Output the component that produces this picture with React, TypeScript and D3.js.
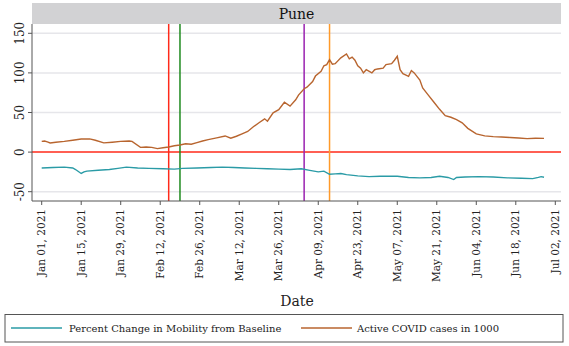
import React from "react";
import * as d3 from "d3";

const casesDays = [0,1,2,3,5,8,11,14,17,19,22,25,28,31,32,35,37,39,41,43,45,47,49,51,53,55,57,59,62,65,67,69,71,73,75,77,79,80,82,84,86,88,90,91,93,94,96,97,99,100,101,102,103,104,106,108,109,110,111,112,113,114,115,117,118,119,121,122,124,125,126,127,128,130,131,132,134,135,137,139,141,143,145,147,149,151,154,157,160,163,166,169,172,175,178];
const casesValues = [13.6,14,13,11.6,12.5,13.5,15,16.5,16.7,15,11.6,12.5,13.5,14,13.5,6,6.5,6,4.4,5.5,6.5,8,9,10.5,10,12,14,15.8,18,20.4,17.5,20,23,26,32,37,42,39,49.5,53.6,63,58,66,72,80,82,89,96,102,109,110.5,116.8,111,111.7,119,124,117.7,120,116,109,106,100,104,100,104,105,106,110.5,111.7,116,121,104,99,95.7,103,100,91,81,72,63,54,46,44,41,37,30,23,20.5,19.5,19,18.5,17.8,17,17.5,17.3];

const mobilityDays = [0,4,8,11,12,14,15,16,20,24,27,30,34,38,43,47,50,55,60,64,68,72,76,80,84,88,92,95,98,100,102,104,106,108,112,116,120,126,130,134,138,141,144,146,147,150,155,160,165,170,174,176,177,178];
const mobilityValues = [-20,-19.5,-19,-20,-22,-27,-25,-24,-23,-22,-20.5,-19,-20,-20.5,-21,-21.5,-20.5,-20,-19.5,-19,-19.5,-20,-20.5,-21,-21.5,-22,-21,-23,-25,-24,-28,-27.5,-27,-28.5,-30,-31,-30.5,-30.5,-32,-32.5,-32,-30.5,-32,-34.7,-32,-31.5,-31,-31.5,-32.5,-33,-33.5,-32,-31,-31.8];

const xTickLabels = ["Jan 01, 2021","Jan 15, 2021","Jan 29, 2021","Feb 12, 2021","Feb 26, 2021","Mar 12, 2021","Mar 26, 2021","Apr 09, 2021","Apr 23, 2021","May 07, 2021","May 21, 2021","Jun 04, 2021","Jun 18, 2021","Jul 02, 2021"];
const yTicks = [-50, 0, 50, 100, 150];
const eventDates = ["2021-02-15", "2021-02-19", "2021-04-04", "2021-04-13"];
const eventColors = ["#ff2a1a", "#1f8a1f", "#9a22b0", "#ff9a2a"];

const start = new Date(2021, 0, 1);
const dayToDate = (d: number) => new Date(2021, 0, 1 + d);
const parse = d3.timeParse("%Y-%m-%d");
const fmt = d3.timeFormat("%b %d, %Y");

export default function App() {
  const W = 569, H = 346;
  const left = 32, right = 561, top = 24, bottom = 201;
  const x = d3.scaleTime().domain([start, new Date(2021, 6, 2)]).range([41.7, 555.3]);
  const y = d3.scaleLinear().domain([-50, 150]).range([191.7, 33.3]);

  const casesData = casesDays.map((d, i) => ({ date: dayToDate(d), v: casesValues[i] }));
  const mobData = mobilityDays.map((d, i) => ({ date: dayToDate(d), v: mobilityValues[i] }));
  const line = d3.line<{ date: Date; v: number }>().x(d => x(d.date)).y(d => y(d.v));

  const xTicks = xTickLabels.map(l => d3.timeParse("%b %d, %Y")(l) as Date);
  const font = "'DejaVu Serif', serif";
  const teal = "#2a9ba6";
  const brown = "#b8652f";

  return (
    <svg width={W} height={H} style={{ position: "absolute", left: 0, top: 0, background: "#fff" }}>
      <rect x={0} y={0} width={W} height={H} fill="#fff" />
      <rect x={left} y={3} width={right - left} height={top - 3} fill="#d2d2d4" />
      <text x={(left + right) / 2} y={19} textAnchor="middle" fontFamily={font} fontSize={14} fill="#111">Pune</text>
      {yTicks.filter(t => t !== 0).map(t => (
        <line key={t} x1={left} x2={right} y1={y(t)} y2={y(t)} stroke="#e6e6ea" strokeWidth={1.5} />
      ))}
      <line x1={left} x2={right} y1={y(0)} y2={y(0)} stroke="#ff2a1a" strokeWidth={1.5} />
      {eventDates.map((d, i) => (
        <line key={d} x1={x(parse(d) as Date)} x2={x(parse(d) as Date)} y1={top} y2={bottom} stroke={eventColors[i]} strokeWidth={1.5} />
      ))}
      <path d={line(mobData) || ""} fill="none" stroke={teal} strokeWidth={1.4} />
      <path d={line(casesData) || ""} fill="none" stroke={brown} strokeWidth={1.4} />
      <line x1={left} x2={left} y1={top} y2={bottom} stroke="#555" strokeWidth={1} />
      <line x1={left} x2={right} y1={bottom} y2={bottom} stroke="#555" strokeWidth={1} />
      {yTicks.map(t => (
        <g key={t}>
          <line x1={left - 4} x2={left} y1={y(t)} y2={y(t)} stroke="#555" />
          <text transform={`translate(${left - 8},${y(t)}) rotate(-90)`} textAnchor="middle" fontFamily={font} fontSize={12} fill="#222">{t}</text>
        </g>
      ))}
      {xTicks.map((t, i) => (
        <g key={i}>
          <line x1={x(t)} x2={x(t)} y1={bottom} y2={bottom + 4} stroke="#555" />
          <text transform={`translate(${x(t)},${bottom + 8}) rotate(-90)`} textAnchor="end" dy="0.35em" fontFamily={font} fontSize={10.5} fill="#222">{fmt(t)}</text>
        </g>
      ))}
      <text x={297} y={306} textAnchor="middle" fontFamily={font} fontSize={14} fill="#222">Date</text>
      <rect x={5} y={314.5} width={558} height={27.5} fill="#fff" stroke="#555" strokeWidth={1} />
      <line x1={11} x2={62} y1={328} y2={328} stroke={teal} strokeWidth={1.5} />
      <text x={69} y={331.5} fontFamily={font} fontSize={10} fill="#222">Percent Change in Mobility from Baseline</text>
      <line x1={301} x2={352} y1={328} y2={328} stroke={brown} strokeWidth={1.5} />
      <text x={357} y={331.5} fontFamily={font} fontSize={10} fill="#222">Active COVID cases in 1000</text>
    </svg>
  );
}
